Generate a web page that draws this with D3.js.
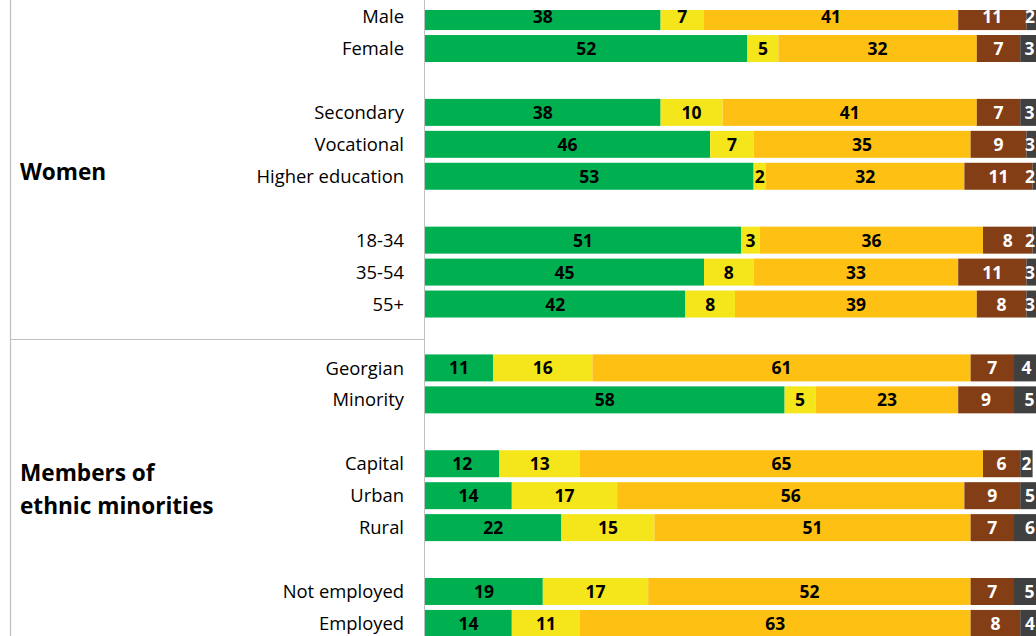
<!DOCTYPE html>
<html>
<head>
<meta charset="utf-8">
<script src="https://cdn.jsdelivr.net/npm/d3@7"></script>
<style>
html,body{margin:0;padding:0;background:#fff;}
svg{display:block;}
</style>
</head>
<body>
<svg id="chart" width="1036" height="636"></svg>
<script>
// ---- data ----
const rows = ["Male","Female","gap1","Secondary","Vocational","Higher education","gap2",
  "18-34","35-54","55+","gap3","Georgian","Minority","gap4","Capital","Urban","Rural","gap5",
  "Not employed","Employed"];
const categories = ["Male","Female","Secondary","Vocational","Higher education","18-34","35-54","55+",
  "Georgian","Minority","Capital","Urban","Rural","Not employed","Employed"];
const s1 = [38,52,38,46,53,51,45,42,11,58,12,14,22,19,14];
const s2 = [7,5,10,7,2,3,8,8,16,5,13,17,15,17,11];
const s3 = [41,32,41,35,32,36,33,39,61,23,65,56,51,52,63];
const s4 = [11,7,7,9,11,8,11,8,7,9,6,9,7,7,8];
const s5 = [2,3,3,3,2,2,3,3,4,5,2,5,6,5,4];
const seriesKeys = ["s1","s2","s3","s4","s5"];
const colors = ["#00B050","#F5E61B","#FEC013","#843E16","#404040"];
const textColors = ["#000","#000","#000","#fff","#fff"];
const groupLabels = [["Women"],["Members of","ethnic minorities"]];

// ---- build table ----
const table = categories.map((c,i)=>({cat:c,s1:s1[i],s2:s2[i],s3:s3[i],s4:s4[i],s5:s5[i]}));
const stacked = d3.stack().keys(seriesKeys)(table);

const svg = d3.select("#chart");
const W = 1036, H = 636;

const x = d3.scaleLinear().domain([0,100]).range([425,1045]);
const y = d3.scaleBand().domain(rows).range([0.6,639.4]).paddingInner(0.155).paddingOuter(0.0775);

const FONT = "'Open Sans', Lato, sans-serif";

// clip for plot area
svg.append("defs").append("clipPath").attr("id","plotclip")
  .append("rect").attr("x",425).attr("y",10).attr("width",W-425).attr("height",H-10);

// frame lines
svg.append("line").attr("x1",10.5).attr("x2",10.5).attr("y1",0).attr("y2",H)
  .attr("stroke","#BFBFBF").attr("stroke-width",1.2);
svg.append("line").attr("x1",10).attr("x2",424).attr("y1",339.5).attr("y2",339.5)
  .attr("stroke","#BFBFBF").attr("stroke-width",1.2);
svg.append("line").attr("x1",424.5).attr("x2",424.5).attr("y1",0).attr("y2",H)
  .attr("stroke","#BFBFBF").attr("stroke-width",1);

// bars
const plot = svg.append("g").attr("clip-path","url(#plotclip)");
const layers = plot.selectAll("g.layer").data(stacked).join("g").attr("class","layer")
  .attr("fill",(d,i)=>colors[i]);
layers.selectAll("rect").data(d=>d).join("rect")
  .attr("x",d=>x(d[0]))
  .attr("y",d=>y(d.data.cat))
  .attr("width",d=>x(d[1])-x(d[0]))
  .attr("height",y.bandwidth());

// value labels
const lab = svg.append("g");
stacked.forEach((layer,i)=>{
  lab.selectAll("text.v"+i).data(layer).join("text")
    .attr("x",d=>Math.min(x((d[0]+d[1])/2), W-6))
    .attr("y",d=>y(d.data.cat)+y.bandwidth()/2)
    .attr("dy","0.37em")
    .attr("text-anchor","middle")
    .attr("font-family",FONT).attr("font-weight","bold").attr("font-size",17.5)
    .attr("fill",textColors[i])
    .text(d=>d[1]-d[0]);
});

// category labels
svg.append("g").selectAll("text").data(categories).join("text")
  .attr("x",404)
  .attr("y",d=>y(d)+y.bandwidth()/2)
  .attr("dy","0.36em")
  .attr("text-anchor","end")
  .attr("font-family",FONT).attr("font-size",18.4).attr("fill","#000")
  .text(d=>d);

// group labels
svg.append("text").attr("x",20).attr("y",172).attr("dy","0.36em")
  .attr("font-family",FONT).attr("font-weight","bold").attr("font-size",22.6).attr("fill","#000")
  .text(groupLabels[0][0]);
const g2 = svg.append("text").attr("x",20).attr("y",473)
  .attr("font-family",FONT).attr("font-weight","bold").attr("font-size",22.6).attr("fill","#000");
groupLabels[1].forEach((t,i)=>{
  g2.append("tspan").attr("x",20).attr("dy",i===0?"0.36em":"33px").text(t);
});
</script>
</body>
</html>
